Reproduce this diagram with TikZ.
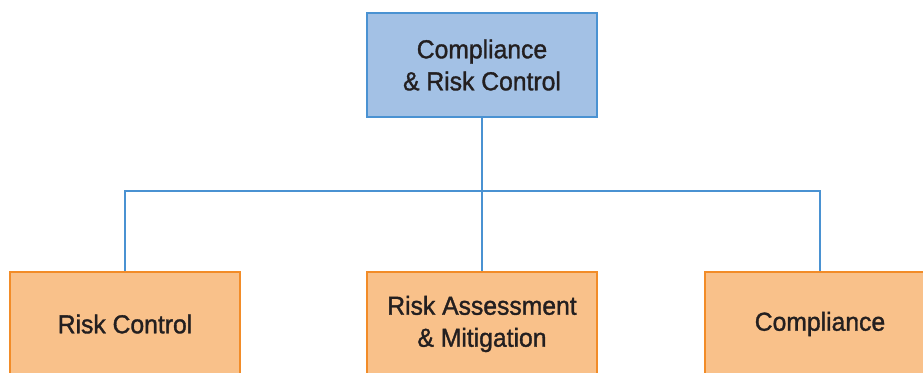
\documentclass[tikz,border=0pt]{standalone}
\usepackage{fontspec}
\setmainfont{Liberation Sans}[FakeStretch=0.95,FakeBold=1.3]
\usetikzlibrary{calc,positioning}
\definecolor{headfill}{HTML}{A3C1E5}
\definecolor{headline}{HTML}{4A92D2}
\definecolor{unitfill}{HTML}{F9C18A}
\definecolor{unitline}{HTML}{F28C28}
\definecolor{inktext}{HTML}{231F20}

\begin{document}
\begin{tikzpicture}[x=1pt,y=-1pt,
  every node/.style={rectangle,minimum width=230pt,minimum height=104pt,line width=2pt,
    align=center,text=inktext,font=\fontsize{26}{32}\selectfont},
  head/.style={draw=headline,fill=headfill},
  unit/.style={draw=unitline,fill=unitfill},
  link/.style={draw=headline,line width=2pt}]
  \useasboundingbox (0,0) rectangle (923,372);
  \clip (0,0) rectangle (923,372);

  \node[head] (crc)                           at (482,65)  {Compliance\\\& Risk Control};
  \node[unit] (ram)                           at (482,324) {Risk Assessment\\\& Mitigation};
  \node[unit] (rc)                            at ($(ram)+(-357,0)$) {Risk Control};
  \node[unit] (comp)                          at ($(ram)+(338,0)$)  {Compliance};

  \coordinate (bus) at ($(crc.south)+(0,73)$);
  \draw[link] (crc.south) -- (ram.north);
  \draw[link] (rc.north) |- (bus) -| (comp.north);
\end{tikzpicture}
\end{document}
